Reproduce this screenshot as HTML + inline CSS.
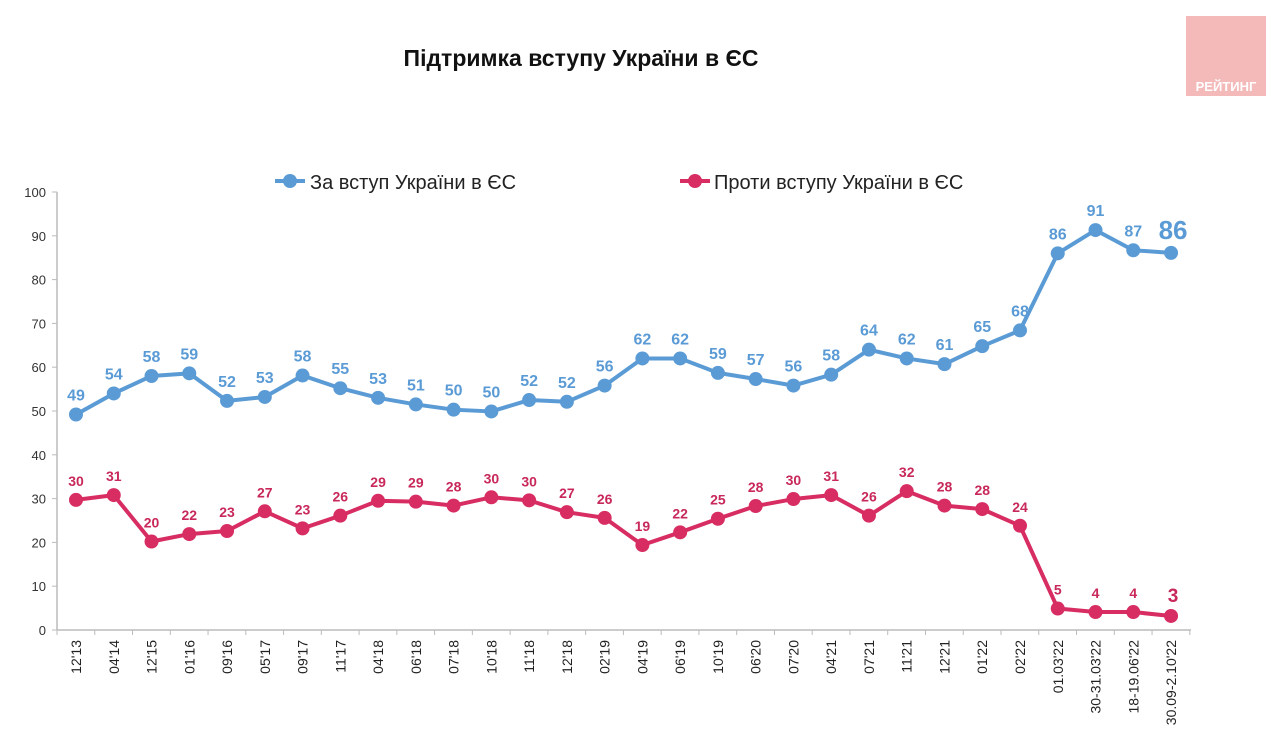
<!DOCTYPE html>
<html><head><meta charset="utf-8"><style>
body{margin:0;background:#fff;width:1280px;height:751px;overflow:hidden;font-family:"Liberation Sans",sans-serif}
</style></head><body>
<svg id="s" width="1280" height="751" xmlns="http://www.w3.org/2000/svg" font-family="Liberation Sans, sans-serif">
<rect x="1186" y="16" width="80" height="80" fill="#f4b9b9"/>
<text x="1226" y="91" text-anchor="middle" font-size="13" font-weight="bold" fill="#fff">РЕЙТИНГ</text>
<text x="581" y="66" text-anchor="middle" font-size="23" font-weight="bold" font-family="Liberation Sans Narrow, Liberation Sans, sans-serif" fill="#111">Підтримка вступу України в ЄС</text>
<line x1="275" y1="181" x2="305" y2="181" stroke="#5b9bd5" stroke-width="4"/>
<circle cx="290" cy="181" r="7" fill="#5b9bd5"/>
<text x="310" y="189" font-size="20" font-family="Liberation Sans Narrow, Liberation Sans, sans-serif" fill="#222">За вступ України в ЄС</text>
<line x1="680" y1="181" x2="710" y2="181" stroke="#d72d62" stroke-width="4"/>
<circle cx="695" cy="181" r="7" fill="#d72d62"/>
<text x="714" y="189" font-size="20" font-family="Liberation Sans Narrow, Liberation Sans, sans-serif" fill="#222">Проти вступу України в ЄС</text>
<g id="g"></g>
</svg>
<script>
var g=document.getElementById('g'),h='';
var Y=function(v){return 630-v*4.38};
var X=function(i){return 76+i*37.76};
h+='<line x1="57" y1="192" x2="57" y2="630" stroke="#bbb" stroke-width="1.5"/><line x1="57" y1="630" x2="1191" y2="630" stroke="#bbb" stroke-width="1.5"/>';
for(var v=0;v<=100;v+=10){h+='<line x1="52" y1="'+Y(v)+'" x2="57" y2="'+Y(v)+'" stroke="#bbb"/><text x="46" y="'+(Y(v)+5)+'" text-anchor="end" font-size="13" fill="#333">'+v+'</text>';}
var labs=["12'13","04'14","12'15","01'16","09'16","05'17","09'17","11'17","04'18","06'18","07'18","10'18","11'18","12'18","02'19","04'19","06'19","10'19","06'20","07'20","04'21","07'21","11'21","12'21","01'22","02'22","01.03'22","30-31.03'22","18-19.06'22","30.09-2.10'22"];
for(var i=0;i<=30;i++){var x=57+i*37.76;h+='<line x1="'+x+'" y1="630" x2="'+x+'" y2="635" stroke="#bbb"/>';}
labs.forEach(function(l,i){var x=X(i)+5;h+='<text transform="translate('+x+',640) rotate(-90)" text-anchor="end" font-size="14" fill="#222">'+l+'</text>';});
var b=[49.2,54,58,58.6,52.3,53.2,58.1,55.2,53,51.5,50.3,49.9,52.5,52.1,55.8,62,62,58.7,57.3,55.8,58.3,64,62,60.7,64.8,68.4,86,91.3,86.7,86.1];
var bl=[49,54,58,59,52,53,58,55,53,51,50,50,52,52,56,62,62,59,57,56,58,64,62,61,65,68,86,91,87,86];
var r=[29.7,30.8,20.2,21.9,22.6,27.1,23.2,26.1,29.5,29.3,28.4,30.3,29.6,26.9,25.6,19.4,22.3,25.4,28.3,29.9,30.8,26.1,31.7,28.4,27.6,23.8,4.9,4.1,4.1,3.2];
var rl=[30,31,20,22,23,27,23,26,29,29,28,30,30,27,26,19,22,25,28,30,31,26,32,28,28,24,5,4,4,3];
function ser(d,l,c,tc,fs,off,last){var p=d.map(function(v,i){return X(i)+','+Y(v)}).join(' ');
h+='<polyline points="'+p+'" fill="none" stroke="'+c+'" stroke-width="4" stroke-linejoin="round"/>';
d.forEach(function(v,i){h+='<circle cx="'+X(i)+'" cy="'+Y(v)+'" r="7" fill="'+c+'"/>';
var big=i==d.length-1;h+='<text x="'+(X(i)+(big?2:0))+'" y="'+(Y(v)-off-(big?0:0))+'" text-anchor="middle" font-weight="bold" font-size="'+(big?last:fs)+'" font-family="Liberation Sans Narrow, Liberation Sans, sans-serif" fill="'+tc+'">'+l[i]+'</text>';});}
ser(b,bl,'#5b9bd5','#5b9bd5',16,14,26);
ser(r,rl,'#d72d62','#c8285a',14,14,19);
g.innerHTML=h;
</script>
</body></html>
